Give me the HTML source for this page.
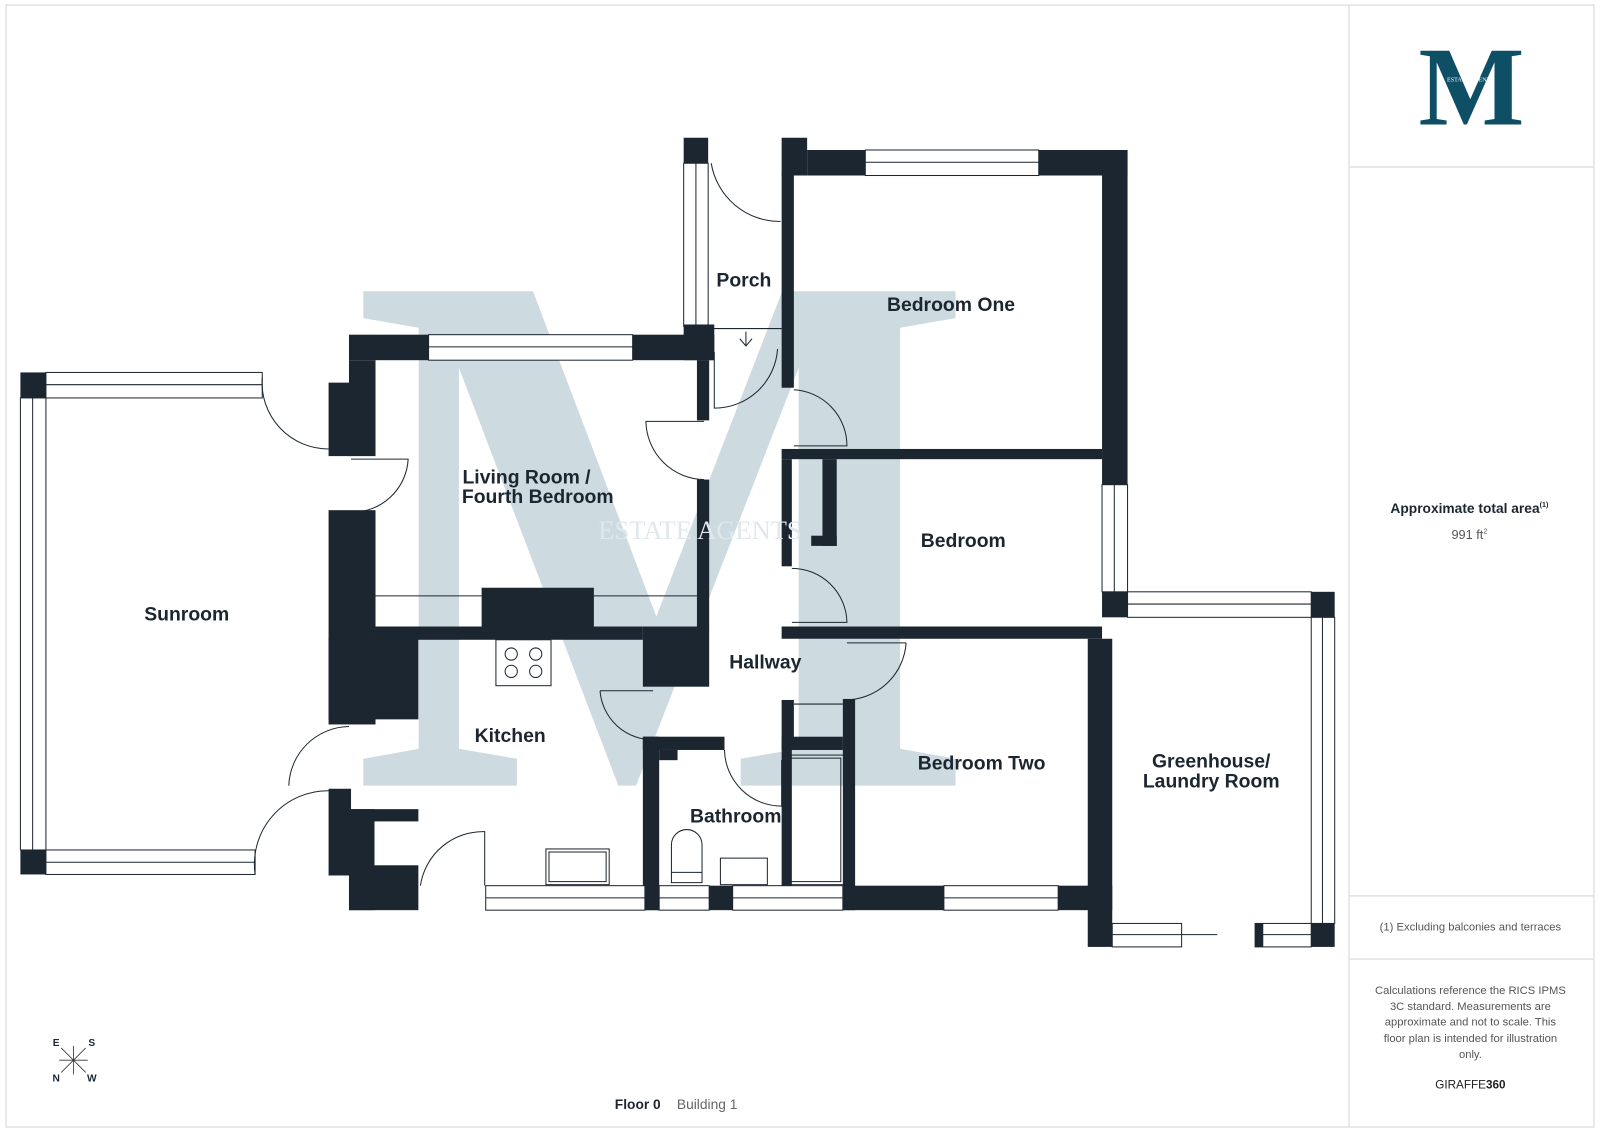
<!DOCTYPE html>
<html><head><meta charset="utf-8"><style>
html,body{margin:0;padding:0;background:#fff;}
svg{display:block;}
.w{fill:#1c2630;}
.win{fill:#fff;stroke:#1c2630;stroke-width:1;}
.thin{fill:none;stroke:#1c2630;stroke-width:1;}
.lbl{font-family:"Liberation Sans",sans-serif;font-weight:bold;font-size:19px;fill:#1c2630;text-anchor:middle;}
.side{font-family:"Liberation Sans",sans-serif;fill:#555;text-anchor:middle;}
</style></head><body>
<svg width="1600" height="1132" viewBox="0 0 1568 1109.4" preserveAspectRatio="none" xmlns="http://www.w3.org/2000/svg">
<rect x="0" y="0" width="1568" height="1109.4" fill="#fff"/>
<rect x="6" y="5" width="1556" height="1099.5" fill="none" stroke="#e2e2e2" stroke-width="1.5"/>
<line x1="1322" y1="5" x2="1322" y2="1104.5" stroke="#e2e2e2" stroke-width="1.5"/>
<line x1="1322" y1="163.6" x2="1562" y2="163.6" stroke="#e2e2e2" stroke-width="1.5"/>
<line x1="1322" y1="878" x2="1562" y2="878" stroke="#e2e2e2" stroke-width="1.5"/>
<line x1="1322" y1="940" x2="1562" y2="940" stroke="#e2e2e2" stroke-width="1.5"/>

<!-- logo -->
<text x="1442" y="122" font-family="Liberation Serif,serif" font-weight="bold" font-size="110" fill="#0e4f66" text-anchor="middle">M</text>
<text x="1441" y="80" font-family="Liberation Serif,serif" font-size="6" fill="#fff" text-anchor="middle">ESTATE AGENTS</text>

<text class="side" x="1440" y="503" font-size="13.5" font-weight="bold" style="fill:#1c2630">Approximate total area<tspan font-size="7" dy="-6">(1)</tspan></text>
<text class="side" x="1440" y="528" font-size="12.5">991 ft<tspan font-size="7" dy="-5">2</tspan></text>
<text class="side" x="1441" y="912" font-size="11">(1) Excluding balconies and terraces</text>
<text class="side" x="1441" y="974" font-size="11">Calculations reference the RICS IPMS</text>
<text class="side" x="1441" y="990" font-size="11">3C standard. Measurements are</text>
<text class="side" x="1441" y="1005" font-size="11">approximate and not to scale. This</text>
<text class="side" x="1441" y="1021" font-size="11">floor plan is intended for illustration</text>
<text class="side" x="1441" y="1037" font-size="11">only.</text>
<text class="side" x="1441" y="1067" font-size="11.5" style="fill:#222">GIRAFFE<tspan font-weight="bold">360</tspan></text>

<!-- watermark (beneath plan) -->
<text x="650" y="770" font-family="Liberation Serif,serif" font-weight="bold" font-size="740" fill="#cddbe1" text-anchor="middle" textLength="610" lengthAdjust="spacingAndGlyphs">M</text>

<!-- Sunroom -->
<rect class="win" x="45" y="365" width="212" height="25"/><line class="thin" x1="45" y1="377" x2="257" y2="377"/>
<rect class="win" x="20" y="390" width="25" height="443"/><line class="thin" x1="32" y1="390" x2="32" y2="833"/>
<rect class="win" x="45" y="833" width="205" height="24"/><line class="thin" x1="45" y1="845" x2="250" y2="845"/>
<rect class="w" x="20" y="365" width="25" height="25"/>
<rect class="w" x="20" y="833" width="25" height="24"/>
<path class="thin" d="M257 370 A65 65 0 0 0 322 440"/>
<path class="thin" d="M342 712 A60 60 0 0 0 283 770"/>
<path class="thin" d="M322 775 A72 72 0 0 0 250 857"/>

<!-- Living room -->
<rect class="w" x="342" y="328" width="78" height="25"/>
<rect class="win" x="420" y="328" width="200" height="25"/><line class="thin" x1="420" y1="340" x2="620" y2="340"/>
<rect class="w" x="620" y="328" width="80" height="25"/>
<rect class="w" x="342" y="353" width="26" height="94"/>
<rect class="w" x="322" y="375" width="22" height="72"/>
<path class="thin" d="M344 450 L400 450 A55 55 0 0 1 345 502"/>
<rect class="w" x="322" y="500" width="46" height="210"/>
<rect class="w" x="322" y="625" width="88" height="80"/>
<rect class="w" x="683" y="353" width="12" height="59"/>
<path class="thin" d="M690 413 L633 413 A58 58 0 0 0 690 470"/>
<rect class="w" x="683" y="470" width="12" height="145"/>
<line class="thin" x1="368" y1="584" x2="683" y2="584"/>
<rect class="w" x="472" y="576" width="110" height="40"/>
<rect class="w" x="368" y="614" width="262" height="13"/>
<rect class="w" x="630" y="614" width="65" height="59"/>

<!-- Porch -->
<rect class="w" x="670" y="135" width="24" height="25"/>
<rect class="win" x="670" y="160" width="24" height="160"/><line class="thin" x1="682" y1="160" x2="682" y2="320"/>
<rect class="w" x="670" y="318" width="30" height="35"/>
<path class="thin" d="M697 160 A68 68 0 0 0 765 217"/>
<path class="thin" d="M700 345 L700 400 A62 62 0 0 0 762 342"/>
<line class="thin" x1="694" y1="322" x2="766" y2="322"/>
<path class="thin" d="M731 325 L731 338 M725 332 L731 339 L737 332"/>

<!-- Bedroom One -->
<rect class="w" x="766" y="135" width="25" height="37"/>
<rect class="w" x="791" y="147" width="57" height="25"/>
<rect class="win" x="848" y="147" width="170" height="25"/><line class="thin" x1="848" y1="159" x2="1018" y2="159"/>
<rect class="w" x="1018" y="147" width="87" height="25"/>
<rect class="w" x="1080" y="147" width="25" height="328"/>
<rect class="win" x="1080" y="475" width="25" height="105"/><line class="thin" x1="1092" y1="475" x2="1092" y2="580"/>
<rect class="w" x="766" y="170" width="12" height="210"/>
<path class="thin" d="M778 382 A55 55 0 0 1 830 437 L778 437"/>
<rect class="w" x="766" y="440" width="314" height="10"/>
<rect class="w" x="806" y="450" width="14" height="85"/>
<rect class="w" x="795" y="525" width="25" height="10"/>
<rect class="w" x="766" y="450" width="10" height="105"/>
<path class="thin" d="M776 557 A54 54 0 0 1 830 610 L776 610"/>
<rect class="w" x="766" y="614" width="314" height="12"/>

<!-- Bedroom Two -->
<path class="thin" d="M888 630 L830 630 M888 630 A60 60 0 0 1 828 686"/>
<rect class="w" x="826" y="685" width="12" height="207"/>
<rect class="w" x="766" y="686" width="12" height="49"/>
<rect class="w" x="766" y="722" width="60" height="13"/>
<line class="thin" x1="778" y1="690" x2="826" y2="690"/>
<rect class="w" x="826" y="868" width="99" height="24"/>
<rect class="win" x="925" y="868" width="112" height="24"/><line class="thin" x1="925" y1="880" x2="1037" y2="880"/>
<rect class="w" x="1037" y="868" width="53" height="24"/>
<rect class="w" x="1066" y="626" width="24" height="302"/>
<rect class="w" x="1080" y="580" width="25" height="25"/>

<!-- Greenhouse -->
<rect class="win" x="1105" y="580" width="180" height="25"/><line class="thin" x1="1105" y1="592" x2="1285" y2="592"/>
<rect class="w" x="1285" y="580" width="23" height="25"/>
<rect class="win" x="1285" y="605" width="23" height="300"/><line class="thin" x1="1296" y1="605" x2="1296" y2="905"/>
<rect class="w" x="1285" y="905" width="23" height="23"/>
<rect class="win" x="1230" y="905" width="55" height="23"/><line class="thin" x1="1230" y1="916" x2="1285" y2="916"/>
<rect class="win" x="1090" y="905" width="68" height="23"/><line class="thin" x1="1090" y1="916" x2="1158" y2="916"/>
<line class="thin" x1="1158" y1="916" x2="1193" y2="916"/>
<rect class="w" x="1230" y="905" width="8" height="23"/>

<!-- Kitchen / bathroom -->
<path class="thin" d="M588 677 L640 677 M588 677 A52 52 0 0 0 640 725"/>
<rect class="w" x="630" y="722" width="80" height="13"/>
<rect class="w" x="630" y="722" width="16" height="170"/>
<rect class="w" x="646" y="735" width="18" height="10"/>
<path class="thin" d="M710 735 A56 56 0 0 0 766 790 L766 745"/>
<rect class="thin" x="770" y="740" width="57" height="127"/>
<rect class="thin" x="773" y="743" width="51" height="121"/>
<rect class="w" x="766" y="735" width="10" height="133"/>
<rect class="thin" x="706" y="841" width="46" height="26"/>
<path class="thin" d="M658 865 L658 828 A15 15 0 0 1 688 828 L688 865 Z M658 855 L688 855"/>
<rect class="thin" x="535" y="832" width="62" height="35"/><rect class="thin" x="538" y="835" width="56" height="29"/>
<rect class="win" x="486" y="627" width="54" height="45"/>
<circle class="thin" cx="501" cy="641" r="6"/><circle class="thin" cx="525" cy="641" r="6"/>
<circle class="thin" cx="501" cy="658" r="6"/><circle class="thin" cx="525" cy="658" r="6"/>
<rect class="w" x="342" y="793" width="68" height="12"/>
<rect class="w" x="342" y="793" width="25" height="99"/>
<rect class="w" x="342" y="848" width="68" height="44"/>
<rect class="w" x="322" y="773" width="22" height="85"/>
<path class="thin" d="M475 868 L475 815 A62 62 0 0 0 412 868"/>
<rect class="win" x="476" y="868" width="156" height="24"/><line class="thin" x1="476" y1="880" x2="632" y2="880"/>
<rect class="w" x="632" y="868" width="14" height="24"/>
<rect class="win" x="646" y="868" width="49" height="24"/><line class="thin" x1="646" y1="880" x2="695" y2="880"/>
<rect class="w" x="695" y="868" width="23" height="24"/>
<rect class="win" x="718" y="868" width="108" height="24"/><line class="thin" x1="718" y1="880" x2="826" y2="880"/>

<text x="686" y="528" font-family="Liberation Serif,serif" font-size="26" fill="#dfe8ec" text-anchor="middle">ESTATE AGENTS</text>

<!-- labels -->
<text class="lbl" x="729" y="281">Porch</text>
<text class="lbl" x="932" y="305">Bedroom One</text>
<text class="lbl" x="516" y="474">Living Room /</text>
<text class="lbl" x="527" y="493">Fourth Bedroom</text>
<text class="lbl" x="944" y="536">Bedroom</text>
<text class="lbl" x="183" y="608">Sunroom</text>
<text class="lbl" x="750" y="655">Hallway</text>
<text class="lbl" x="500" y="727">Kitchen</text>
<text class="lbl" x="962" y="754">Bedroom Two</text>
<text class="lbl" x="1187" y="752">Greenhouse/</text>
<text class="lbl" x="1187" y="772">Laundry Room</text>
<text class="lbl" x="721" y="806">Bathroom</text>

<!-- compass -->
<g stroke="#333" stroke-width="0.8">
<line x1="60" y1="1027" x2="84" y2="1051"/><line x1="84" y1="1027" x2="60" y2="1051"/>
<line x1="72" y1="1025" x2="72" y2="1053"/><line x1="58" y1="1039" x2="86" y2="1039"/>
</g>
<g font-family="Liberation Sans,sans-serif" font-size="10" font-weight="bold" fill="#1c2630" text-anchor="middle">
<text x="55" y="1025">E</text><text x="90" y="1025">S</text><text x="55" y="1060">N</text><text x="90" y="1060">W</text>
</g>
<text x="625" y="1087" font-family="Liberation Sans,sans-serif" font-size="13.5" font-weight="bold" fill="#1c2630" text-anchor="middle">Floor 0</text>
<text x="693" y="1087" font-family="Liberation Sans,sans-serif" font-size="13.5" fill="#666" text-anchor="middle">Building 1</text>
</svg>
</body></html>
